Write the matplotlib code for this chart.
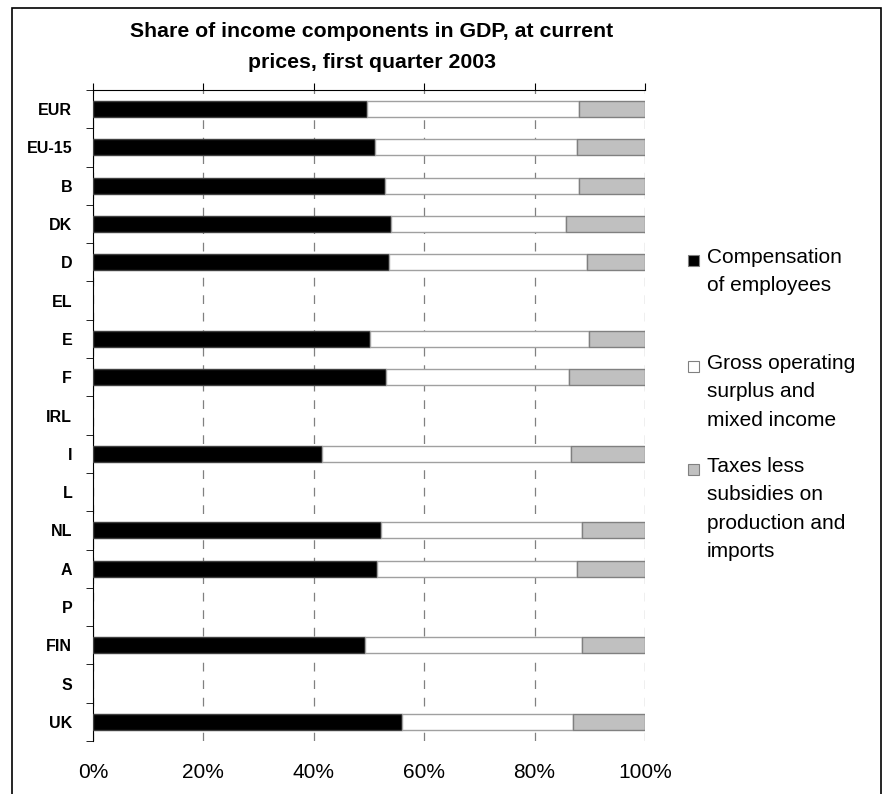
import numpy as np
import matplotlib.pyplot as plt
from matplotlib.patches import Rectangle

countries = ["EUR", "EU-15", "B", "DK", "D", "EL", "E", "F", "IRL", "I",
             "L", "NL", "A", "P", "FIN", "S", "UK"]
# NaN = no data published
compensation = [49.6, 51.1, 52.9, 53.9, 53.6, np.nan, 50.1, 53.0, np.nan, 41.4,
                np.nan, 52.2, 51.5, np.nan, 49.3, np.nan, 55.9]
gross_surplus = [38.5, 36.6, 35.2, 31.7, 35.9, np.nan, 39.8, 33.3, np.nan, 45.2,
                 np.nan, 36.3, 36.2, np.nan, 39.2, np.nan, 31.1]
taxes = [11.9, 12.3, 11.9, 14.4, 10.5, np.nan, 10.1, 13.7, np.nan, 13.4,
         np.nan, 11.5, 12.3, np.nan, 11.5, np.nan, 13.0]
legend_labels = ["Compensation\nof employees",
                 "Gross operating\nsurplus and\nmixed income",
                 "Taxes less\nsubsidies on\nproduction and\nimports"]
colors = ["#000000", "#ffffff", "#c0c0c0"]
x_ticks = [0, 20, 40, 60, 80, 100]

W, H = 885, 794
fig = plt.figure(figsize=(W / 100, H / 100), dpi=100)
plt.rcParams['font.family'] = ['Liberation Sans', 'DejaVu Sans']

# axes box in pixels: left 93, right 645, top 90, bottom 741
ax = fig.add_axes([93 / W, 1 - 741 / H, (645 - 93) / W, (741 - 90) / H])

y = np.arange(len(countries))
comp = np.array(compensation)
gos = np.array(gross_surplus)
tax = np.array(taxes)
ok = ~np.isnan(comp)

edge = ["#404040", "#a0a0a0", "#808080"]
ax.barh(y[ok], comp[ok], height=0.42, color=colors[0], edgecolor=edge[0], linewidth=1, zorder=3)
ax.barh(y[ok], gos[ok], left=comp[ok], height=0.42, color=colors[1], edgecolor=edge[1],
        linewidth=1, zorder=3)
ax.barh(y[ok], tax[ok], left=comp[ok] + gos[ok], height=0.42, color=colors[2],
        edgecolor=edge[2], linewidth=1, zorder=3)

ax.set_xlim(0, 100)
ax.set_ylim(len(countries) - 0.5, -0.5)

ax.set_xticks(x_ticks)
ax.set_xticklabels([f"{t}%" for t in x_ticks], fontsize=15)
ax.tick_params(axis='x', bottom=False, top=True, labelbottom=True, labeltop=False,
               length=5, direction='out', pad=11, color='black')
ax.grid(axis='x', color='#808080', linestyle=(0, (7, 7)), linewidth=0.9, zorder=0)

ax.set_yticks(y)
ax.set_yticklabels(countries, fontsize=11.5, fontweight='bold')
ax.set_yticks(np.arange(-0.5, len(countries)), minor=True)
ax.tick_params(axis='y', which='major', length=0, pad=15)
ax.tick_params(axis='y', which='minor', length=5, direction='out', color='black')

for s in ["right", "bottom"]:
    ax.spines[s].set_visible(False)
ax.spines["left"].set_color("black")
ax.spines["top"].set_color("black")

fig.text(372 / W, 1 - 47 / H, "Share of income components in GDP, at current\nprices, first quarter 2003",
         ha='center', va='center', fontsize=15.3, fontweight='bold', linespacing=1.8)

# legend, placed by hand like the original
entry_tops = [252, 358, 461]
for lab, col, top in zip(legend_labels, colors, entry_tops):
    fig.patches.append(Rectangle((688 / W, 1 - (top + 14) / H), 11 / W, 11 / H,
                                 transform=fig.transFigure, facecolor=col,
                                 edgecolor='#808080', linewidth=0.8))
    fig.text(707 / W, 1 - (top - 4) / H, lab, ha='left', va='top', fontsize=15,
             linespacing=1.62)

# outer frame
fig.patches.append(Rectangle((12 / W, -0.01), (881 - 12) / W, 1 - 8 / H + 0.01,
                             transform=fig.transFigure, fill=False,
                             edgecolor='black', linewidth=1.2))

plt.savefig("out.png", dpi=100)
plt.close()
